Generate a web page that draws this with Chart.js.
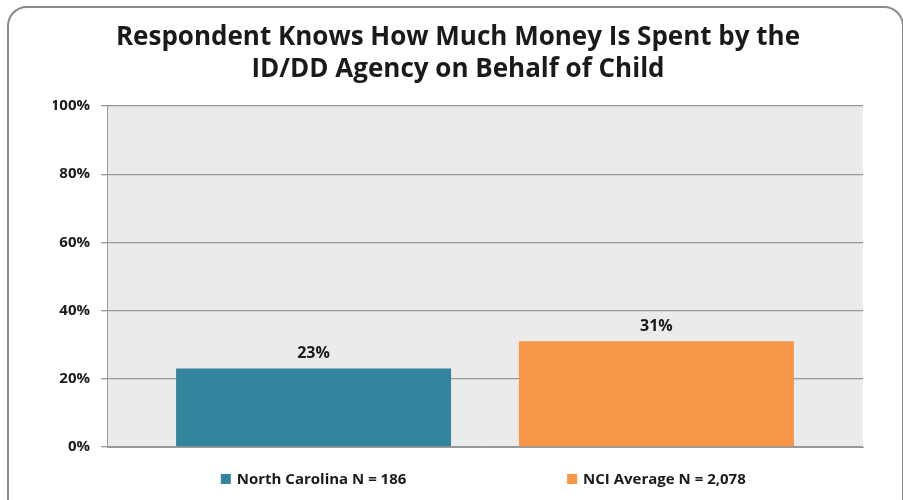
<!DOCTYPE html>
<html>
<head>
<meta charset="utf-8">
<script src="https://cdn.jsdelivr.net/npm/chart.js@4"></script>
<style>
    html, body { margin: 0; padding: 0; background: #fff; }
    #wrap { position: relative; width: 903px; height: 500px; overflow: hidden; }
    #frame {
        position: absolute; left: 7px; top: 6px; width: 897px; height: 520px;
        border: 2px solid #8a8a8a; border-radius: 20px; box-sizing: border-box;
    }
    #chart { position: absolute; left: 0; top: 0; }
</style>
</head>
<body>
<div id="wrap">
    <div id="frame"></div>
    <canvas id="chart" width="903" height="500"></canvas>
</div>
<script>
const titleLines = ['Respondent Knows How Much Money Is Spent by the', 'ID/DD Agency on Behalf of Child'];
const groups = ['North Carolina N = 186', 'NCI Average N = 2,078'];
const percents = [23, 31];
const colors = ['#33849c', '#f79646'];
const yTicks = [0, 20, 40, 60, 80, 100];

const fontFamily = "'Open Sans', 'Liberation Sans', sans-serif";

// single category, one dataset per group
const datasets = groups.map((name, i) => ({
    label: name,
    data: [percents[i]],
    backgroundColor: colors[i],
    borderWidth: 0
}));

// grey panel behind the bars
const plotBackground = {
    id: 'plotBackground',
    beforeDraw(chart) {
        const { ctx, chartArea: a } = chart;
        ctx.save();
        ctx.fillStyle = '#ebebeb';
        ctx.fillRect(a.left, a.top, a.right - a.left, a.bottom - a.top);
        ctx.restore();
    }
};

// percentage printed above each bar
const valueLabels = {
    id: 'valueLabels',
    afterDatasetsDraw(chart) {
        const ctx = chart.ctx;
        ctx.save();
        ctx.font = 'bold 16px ' + fontFamily;
        ctx.fillStyle = '#1a1a1a';
        ctx.textAlign = 'center';
        ctx.textBaseline = 'bottom';
        chart.data.datasets.forEach((ds, i) => {
            const bar = chart.getDatasetMeta(i).data[0];
            ctx.fillText(ds.data[0] + '%', bar.x, bar.y - 7);
        });
        ctx.restore();
    }
};

// legend entries sit centred under their own bar
const barLegend = {
    id: 'barLegend',
    afterDraw(chart) {
        const ctx = chart.ctx;
        const y = chart.chartArea.bottom + 32;
        ctx.save();
        ctx.font = 'bold 15px ' + fontFamily;
        ctx.textBaseline = 'middle';
        ctx.textAlign = 'left';
        chart.data.datasets.forEach((ds, i) => {
            const bar = chart.getDatasetMeta(i).data[0];
            const textW = ctx.measureText(ds.label).width;
            const total = 10 + 6 + textW;
            const x0 = bar.x - total / 2;
            ctx.fillStyle = ds.backgroundColor;
            ctx.fillRect(x0, y - 5, 10, 10);
            ctx.fillStyle = '#1a1a1a';
            ctx.fillText(ds.label, x0 + 16, y + 1);
        });
        ctx.restore();
    }
};

new Chart(document.getElementById('chart'), {
    type: 'bar',
    data: { labels: [''], datasets: datasets },
    options: {
        responsive: false,
        animation: false,
        layout: { padding: { left: 53, right: 40, top: 22, bottom: 53 } },
        datasets: { bar: { categoryPercentage: 0.907, barPercentage: 0.802 } },
        scales: {
            x: {
                ticks: { display: false },
                grid: { display: false, drawTicks: false },
                border: { display: true, color: '#999' }
            },
            y: {
                min: 0,
                max: 100,
                afterBuildTicks(axis) { axis.ticks = yTicks.map(v => ({ value: v })); },
                afterFit(axis) { axis.width = 54; },
                ticks: {
                    padding: 11,
                    color: '#1a1a1a',
                    font: { family: fontFamily, size: 15, weight: 'bold' },
                    callback: v => v + '%'
                },
                grid: { color: '#999', tickLength: 6, lineWidth: 1.3 },
                border: { display: true, color: '#999' }
            }
        },
        plugins: {
            title: {
                display: true,
                text: titleLines,
                color: '#1a1a1a',
                font: { family: fontFamily, size: 26, weight: 'bold', lineHeight: 1.23 },
                padding: { top: 0, bottom: 20 }
            },
            legend: { display: false },
            tooltip: { enabled: false }
        }
    },
    plugins: [plotBackground, valueLabels, barLegend]
});
</script>
</body>
</html>
